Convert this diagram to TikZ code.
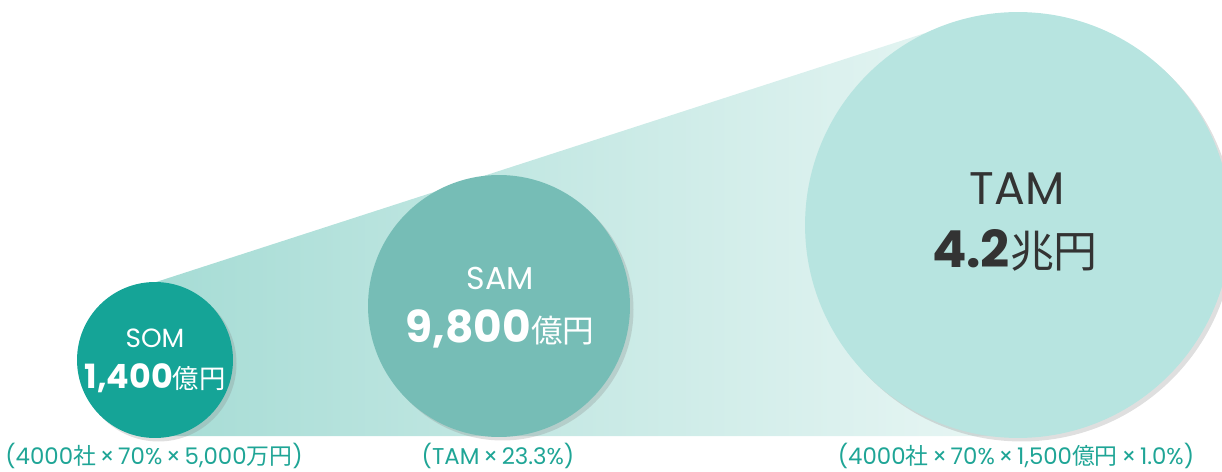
\documentclass[tikz,border=0pt]{standalone}
\usepackage{fontspec}
\setmainfont{Poppins}
\newfontfamily\cjk{Noto Sans CJK JP}
\usetikzlibrary{shadows}
\definecolor{somteal}{HTML}{15A497}
\definecolor{samteal}{HTML}{76BDB6}
\definecolor{tamteal}{HTML}{B7E4E0}
\definecolor{wedgeleft}{HTML}{A6DCD5}
\definecolor{wedgeright}{HTML}{E8F6F4}
\definecolor{labelteal}{HTML}{1FA596}
\definecolor{tamtext}{HTML}{333333}
\begin{document}
\begin{tikzpicture}[x=0.02cm, y=-0.02cm,
  market/.style={circle, inner sep=0pt, drop shadow={opacity=0.25, shadow xshift=2pt, shadow yshift=-2pt}},
  calc/.style={anchor=base, text=labelteal, font=\fontsize{13}{16}\selectfont}]
\useasboundingbox (0,0) rectangle (1222,472);
% widening band behind the circles
\shade[left color=wedgeleft, right color=wedgeright] (153,283) -- (950,25) -- (1000,436) -- (153,436) -- cycle;
% circles
\node[market, fill=tamteal, minimum size=8.52cm] (tam) at (1018,225){};
\node[market, fill=samteal, minimum size=5.24cm] (sam) at (499,306){};
\node[market, fill=somteal, minimum size=3.12cm] (som) at (155,360){};
% texts in the circles
\node[anchor=base, text=white, font=\fontsize{15}{18}\selectfont] (somname) at (155,348){SOM};
\node[anchor=base, text=white] (somvalue) at (155,388){{\fontsize{19}{22}\selectfont\bfseries 1,400}{\cjk\fontsize{15}{18}\selectfont 億円}};
\node[anchor=base, text=white, font=\fontsize{18}{22}\selectfont] (samname) at (500,290){SAM};
\node[anchor=base, text=white] (samvalue) at (500,342){{\fontsize{25}{30}\selectfont\bfseries 9,800}{\cjk\fontsize{18}{22}\selectfont 億円}};
\node[anchor=base, text=tamtext, font=\fontsize{26}{30}\selectfont] (tamname) at (1017,205){TAM};
\node[anchor=base, text=tamtext] (tamvalue) at (1015,268){{\fontsize{29}{34}\selectfont\bfseries 4.2}{\cjk\fontsize{25}{30}\selectfont 兆円}};
% calculations below
\node[calc] (somcalc) at (154,464){(4000{\cjk 社}\,×\,70\%\,×\,5,000{\cjk 万円})};
\node[calc] (samcalc) at (498,464){(TAM\,×\,23.3\%)};
\node[calc] (tamcalc) at (1016,464){(4000{\cjk 社}\,×\,70\%\,×\,1,500{\cjk 億円}\,×\,1.0\%)};
\end{tikzpicture}
\end{document}
